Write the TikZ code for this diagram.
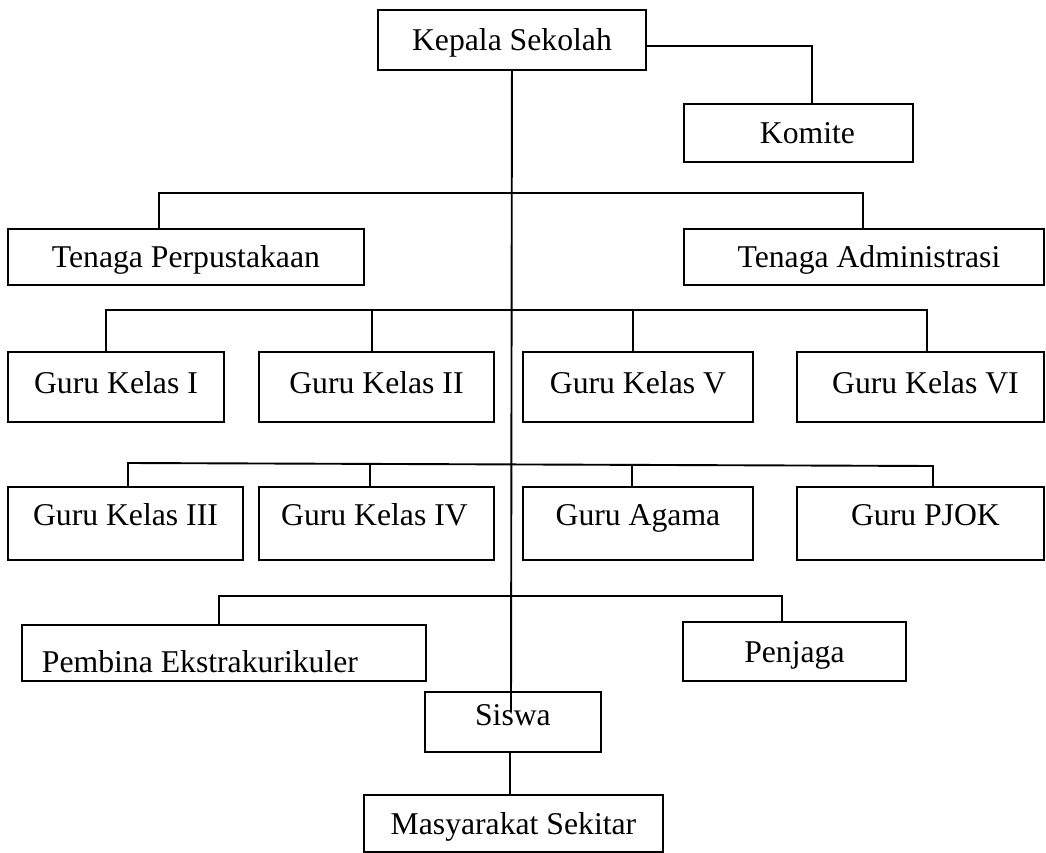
\documentclass[tikz,border=0pt]{standalone}
\usepackage{fontspec}
\setmainfont{Liberation Serif}
\newcommand\shiftedtext[3]{\raisebox{#2}{\hspace*{#1}#3}}
\begin{document}
\begin{tikzpicture}[x=1pt,y=-1pt,
  orgbox/.style={draw=black,line width=1.9pt,inner sep=0pt,anchor=north west,
    font=\fontsize{31.7}{36}\selectfont,text height=21pt,text depth=0pt},
  conn/.style={draw=black,line width=1.9pt}]
\useasboundingbox (0,0) rectangle (1046,853);
% boxes (anchor north west at top-left corner)
\node[orgbox,minimum width=268pt,minimum height=60pt] (kepala) at (377,9) {Kepala Sekolah};
\node[orgbox,minimum width=229pt,minimum height=58pt] (komite) at (683,103) {\shiftedtext{18pt}{0pt}{Komite}};
\node[orgbox,minimum width=356pt,minimum height=56pt] (perpus) at (7,228) {Tenaga Perpustakaan};
\node[orgbox,minimum width=360pt,minimum height=56pt] (admin) at (683,228) {\shiftedtext{10pt}{0pt}{Tenaga Administrasi}};
\node[orgbox,minimum width=216pt,minimum height=70pt] (gk1) at (7,351) {\shiftedtext{0pt}{4pt}{Guru Kelas I}};
\node[orgbox,minimum width=235pt,minimum height=70pt] (gk2) at (258,351) {\shiftedtext{0pt}{4pt}{Guru Kelas II}};
\node[orgbox,minimum width=230pt,minimum height=70pt] (gk5) at (522,351) {\shiftedtext{0pt}{4pt}{Guru Kelas V}};
\node[orgbox,minimum width=247pt,minimum height=70pt] (gk6) at (796,351) {\shiftedtext{10pt}{4pt}{Guru Kelas VI}};
\node[orgbox,minimum width=235pt,minimum height=73pt] (gk3) at (7,486) {\shiftedtext{0pt}{8pt}{Guru Kelas III}};
\node[orgbox,minimum width=235pt,minimum height=73pt] (gk4) at (258,486) {\shiftedtext{-4pt}{8pt}{Guru Kelas IV}};
\node[orgbox,minimum width=230pt,minimum height=73pt] (agama) at (522,486) {\shiftedtext{0pt}{8pt}{Guru Agama}};
\node[orgbox,minimum width=247pt,minimum height=73pt] (pjok) at (796,486) {\shiftedtext{10pt}{8pt}{Guru PJOK}};
\node[orgbox,minimum width=404pt,minimum height=56pt] (pembina) at (21,624) {\shiftedtext{-48pt}{-9pt}{Pembina Ekstrakurikuler}};
\node[orgbox,minimum width=223pt,minimum height=59pt] (penjaga) at (682,621) {\shiftedtext{0pt}{-1pt}{Penjaga}};
\node[orgbox,minimum width=176pt,minimum height=60pt] (siswa) at (424,691) {\shiftedtext{0pt}{7pt}{Siswa}};
\node[orgbox,minimum width=299pt,minimum height=57pt] (masy) at (363,794) {\shiftedtext{0pt}{-1pt}{Masyarakat Sekitar}};
% junction coordinates
\coordinate (kj) at (812,46);
\coordinate (trunkend) at (511,712);
\coordinate (r2a) at (159,193);
\coordinate (r2b) at (863,193);
\coordinate (r3a) at (106,310);
\coordinate (r3b) at (372,310);
\coordinate (r3c) at (633,310);
\coordinate (r3d) at (927,310);
\coordinate (r4a) at (128,463);
\coordinate (r4b) at (370,464);
\coordinate (r4c) at (632,465);
\coordinate (r4d) at (933,466);
\coordinate (r5a) at (219,596);
\coordinate (r5b) at (782,596);
\coordinate (sm) at (510,770);
% connectors
\draw[conn] (kepala.east |- kj) -- (kj) -- (kj |- komite.north);
\draw[conn] (kepala.south) -- (trunkend);
\draw[conn] (r2a |- perpus.north) -- (r2a) -- (r2b) -- (r2b |- admin.north);
\draw[conn] (r3a |- gk1.north) -- (r3a) -- (r3d) -- (r3d |- gk6.north);
\draw[conn] (r3b) -- (r3b |- gk2.north);
\draw[conn] (r3c) -- (r3c |- gk5.north);
\draw[conn] (r4a |- gk3.north) -- (r4a) -- (r4d) -- (r4d |- pjok.north);
\draw[conn] (r4b) -- (r4b |- gk4.north);
\draw[conn] (r4c) -- (r4c |- agama.north);
\draw[conn] (r5a |- pembina.north) -- (r5a) -- (r5b) -- (r5b |- penjaga.north);
\draw[conn] (siswa.south -| sm) -- (masy.north -| sm);
\end{tikzpicture}
\end{document}
